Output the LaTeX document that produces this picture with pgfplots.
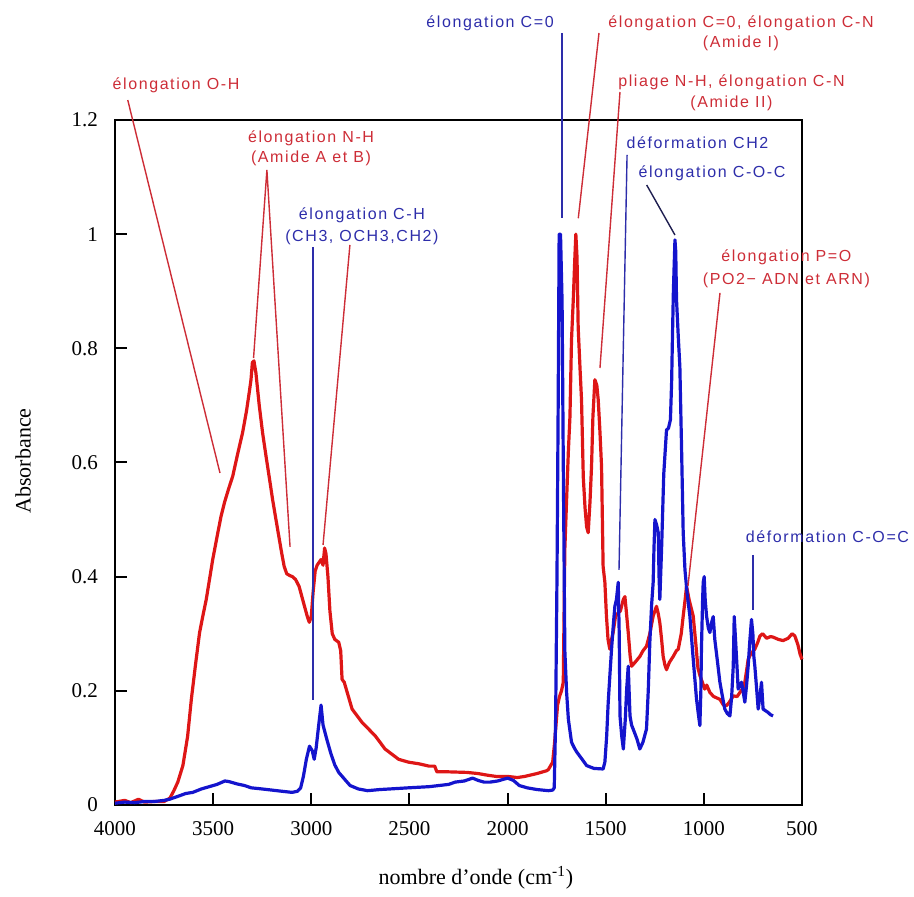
\documentclass[border=0pt]{standalone}
\usepackage{fontspec}
\setmainfont{Liberation Serif}
\newfontfamily\annfont[LetterSpace=10]{Liberation Sans}
\usepackage{pgfplots}
\pgfplotsset{compat=1.18}
\definecolor{redc}{RGB}{222,22,22}
\definecolor{bluec}{RGB}{20,20,205}
\definecolor{redt}{RGB}{205,45,55}
\definecolor{bluet}{RGB}{45,45,170}
\definecolor{navyt}{RGB}{30,30,80}
\begin{document}
\begin{tikzpicture}
\begin{axis}[
 scale only axis, width=343.5pt, height=342.5pt,
 x dir=reverse, xmin=500, xmax=4000, ymin=0, ymax=1.2,
 xtick={500,1000,1500,2000,2500,3000,3500,4000},
 xticklabels={500,1000,1500,2000,2500,3000,3500,4000},
 ytick={0,0.2,0.4,0.6,0.8,1,1.2},
 yticklabels={0,0.2,0.4,0.6,0.8,1,1.2},
 tick pos=left, tick align=inside, major tick length=6pt,
 axis line style={line width=1pt},
 tick style={line width=1pt, black},
 clip=false,
 ticklabel style={font=\fontsize{10.5}{12}\selectfont},
 xticklabel style={yshift=-5pt},
 yticklabel style={xshift=-5pt},
 /pgf/number format/assume math mode=true,
]
\addplot[redc, line width=1.6pt, line join=round] coordinates {
(4000,0.005)(3950,0.008)(3920,0.004)(3880,0.010)(3850,0.005)(3800,0.006)(3750,0.006)
(3720,0.012)(3700,0.025)(3680,0.040)(3654,0.069)(3630,0.12)(3611,0.185)(3590,0.245)
(3569,0.302)(3550,0.335)(3535,0.36)(3502,0.43)(3476,0.477)(3460,0.505)(3442,0.53)
(3420,0.555)(3400,0.576)(3375,0.615)(3350,0.652)(3330,0.69)(3315,0.725)(3307,0.745)
(3300,0.775)(3292,0.778)(3282,0.757)(3265,0.70)(3248,0.652)(3230,0.61)(3210,0.565)
(3197,0.535)(3170,0.48)(3150,0.44)(3138,0.418)(3125,0.405)(3110,0.402)(3096,0.40)
(3080,0.395)(3062,0.383)(3040,0.355)(3020,0.33)(3010,0.32)(3000,0.33)(2990,0.375)
(2980,0.41)(2970,0.42)(2960,0.425)(2950,0.43)(2940,0.42)(2932,0.45)(2925,0.44)
(2915,0.40)(2905,0.34)(2893,0.30)(2880,0.29)(2860,0.285)(2850,0.27)(2843,0.22)
(2832,0.215)(2792,0.168)(2742,0.145)(2674,0.121)(2624,0.098)(2555,0.08)(2505,0.075)
(2450,0.072)(2400,0.068)(2371,0.068)(2360,0.058)(2300,0.058)(2207,0.057)(2150,0.055)
(2100,0.052)(2059,0.05)(2000,0.05)(1950,0.048)(1912,0.05)(1850,0.055)(1800,0.06)
(1792,0.062)(1770,0.075)(1760,0.11)(1745,0.175)(1735,0.19)(1725,0.20)(1716,0.215)
(1708,0.448)(1699,0.535)(1690,0.62)(1682,0.68)(1674,0.815)(1665,0.885)(1658,0.95)
(1652,1.0)(1646,0.96)(1640,0.836)(1630,0.76)(1623,0.71)(1614,0.574)(1605,0.52)
(1597,0.487)(1589,0.477)(1580,0.53)(1572,0.593)(1565,0.68)(1555,0.745)(1545,0.735)
(1538,0.71)(1530,0.66)(1521,0.593)(1513,0.418)(1504,0.39)(1496,0.331)(1488,0.29)
(1479,0.273)(1470,0.29)(1462,0.302)(1450,0.33)(1440,0.335)(1425,0.34)(1410,0.36)
(1402,0.365)(1395,0.34)(1385,0.302)(1375,0.26)(1368,0.243)(1350,0.25)(1326,0.26)
(1310,0.27)(1292,0.278)(1275,0.30)(1258,0.331)(1241,0.348)(1232,0.335)(1224,0.319)
(1215,0.29)(1207,0.26)(1198,0.245)(1190,0.237)(1175,0.25)(1156,0.26)(1140,0.27)
(1130,0.273)(1115,0.30)(1105,0.331)(1095,0.36)(1088,0.383)(1075,0.36)(1054,0.331)
(1040,0.28)(1030,0.24)(1020,0.227)(995,0.203)(985,0.21)(969,0.197)(950,0.19)
(918,0.185)(900,0.175)(884,0.174)(870,0.18)(850,0.191)(830,0.19)(816,0.197)
(800,0.205)(791,0.215)(780,0.24)(774,0.255)(760,0.265)(740,0.273)(725,0.285)
(714,0.296)(700,0.30)(680,0.292)(660,0.295)(647,0.294)(620,0.29)(596,0.288)
(570,0.292)(550,0.30)(536,0.296)(520,0.28)(510,0.265)(500,0.255)
};
\addplot[bluec, line width=1.6pt, line join=round] coordinates {
(4000,0.003)(3950,0.005)(3900,0.004)(3850,0.006)(3800,0.006)(3750,0.008)(3722,0.01)
(3680,0.015)(3640,0.02)(3604,0.022)(3560,0.028)(3520,0.032)(3480,0.036)(3440,0.042)
(3420,0.041)(3380,0.037)(3340,0.034)(3306,0.03)(3250,0.028)(3200,0.026)(3150,0.024)
(3098,0.022)(3070,0.024)(3054,0.03)(3040,0.05)(3025,0.08)(3009,0.103)(2995,0.095)
(2985,0.08)(2975,0.10)(2962,0.14)(2950,0.175)(2940,0.14)(2920,0.114)(2900,0.09)
(2880,0.07)(2860,0.057)(2830,0.045)(2802,0.034)(2760,0.028)(2713,0.025)(2650,0.027)
(2600,0.028)(2505,0.03)(2400,0.032)(2300,0.036)(2267,0.04)(2220,0.042)(2178,0.047)
(2150,0.043)(2120,0.04)(2089,0.04)(2050,0.042)(2020,0.045)(1999,0.047)(1970,0.043)
(1940,0.034)(1900,0.03)(1850,0.027)(1792,0.025)(1770,0.026)(1762,0.03)(1755,0.15)
(1748,0.4)(1742,0.7)(1737,1.0)(1730,1.0)(1722,0.88)(1716,0.6)(1708,0.27)(1699,0.197)
(1690,0.15)(1674,0.11)(1660,0.10)(1648,0.093)(1620,0.08)(1597,0.069)(1560,0.064)
(1513,0.063)(1504,0.075)(1495,0.12)(1487,0.18)(1478,0.23)(1470,0.273)(1460,0.32)
(1453,0.348)(1445,0.36)(1436,0.39)(1431,0.30)(1427,0.156)(1418,0.12)(1410,0.098)
(1400,0.15)(1393,0.203)(1385,0.243)(1376,0.156)(1368,0.14)(1360,0.133)(1340,0.115)
(1326,0.098)(1310,0.11)(1292,0.133)(1283,0.2)(1275,0.285)(1266,0.35)(1258,0.39)
(1254,0.448)(1249,0.50)(1240,0.49)(1232,0.477)(1228,0.40)(1224,0.36)(1215,0.45)
(1204,0.58)(1190,0.657)(1180,0.66)(1170,0.675)(1164,0.74)(1160,0.815)(1155,0.90)
(1147,0.99)(1143,0.97)(1139,0.885)(1130,0.82)(1122,0.768)(1113,0.62)(1105,0.477)
(1096,0.412)(1085,0.37)(1071,0.331)(1055,0.26)(1037,0.185)(1028,0.16)(1020,0.139)
(1015,0.2)(1012,0.273)(1006,0.36)(1003,0.39)(998,0.40)(993,0.36)(986,0.331)
(977,0.31)(969,0.302)(960,0.32)(952,0.33)(944,0.29)(930,0.25)(918,0.215)(905,0.19)
(893,0.168)(880,0.16)(867,0.156)(858,0.19)(850,0.243)(845,0.33)(840,0.30)(832,0.25)
(825,0.203)(815,0.21)(808,0.215)(800,0.20)(791,0.18)(782,0.21)(774,0.243)(765,0.29)
(757,0.325)(750,0.30)(745,0.26)(740,0.243)(730,0.20)(723,0.168)(714,0.19)(706,0.215)
(698,0.168)(685,0.165)(672,0.162)(660,0.158)(647,0.156)
};
% bounding box matching the reference frame
\path (axis cs:4585.9,1.4102) rectangle (axis cs:-70.9,-0.1524);
% axis labels
\node[rotate=90, font=\fontsize{11}{13}\selectfont] at (axis cs:4468.7,0.6026) {Absorbance};
\node[font=\fontsize{11}{13}\selectfont] at (axis cs:2160.7,-0.1279) {nombre d'onde (cm\textsuperscript{-1})};
% annotations
\tikzset{ann/.style={font=\fontsize{8}{9.6}\annfont, inner sep=0pt}}
\node[ann, text=redt] at (axis cs:3689,1.2613) {élongation O-H};
\draw[redt, line width=0.7pt] (axis cs:3935,1.235) -- (axis cs:3465,0.5816);
\node[ann, text=redt] at (axis cs:3001,1.1685) {élongation N-H};
\node[ann, text=redt] at (axis cs:3001,1.1334) {(Amide A et B)};
\draw[redt, line width=0.7pt] (axis cs:3294,0.783) -- (axis cs:3226,1.1124) -- (axis cs:3108,0.452);
\node[ann, text=bluet] at (axis cs:2742,1.0336) {élongation C-H};
\node[ann, text=bluet] at (axis cs:2742,0.995) {(CH3, OCH3,CH2)};
\draw[bluet, line width=0.7pt] (axis cs:2991,0.9775) -- (axis cs:2991,0.184);
\draw[redt, line width=0.7pt] (axis cs:2803,0.981) -- (axis cs:2940,0.4555);
\node[ann, text=bluet] at (axis cs:2089,1.37) {élongation C=0};
\draw[bluet, line width=0.7pt] (axis cs:1722.6,1.3524) -- (axis cs:1722.6,1.028);
\node[ann, text=redt] at (axis cs:810.5,1.37) {élongation C=0, élongation C-N};
\node[ann, text=redt] at (axis cs:810.5,1.3349) {(Amide I)};
\draw[redt, line width=0.7pt] (axis cs:1534,1.3524) -- (axis cs:1639.5,1.0278);
\node[ann, text=redt] at (axis cs:859,1.2666) {pliage N-H, élongation C-N};
\node[ann, text=redt] at (axis cs:859,1.2298) {(Amide II)};
\draw[redt, line width=0.7pt] (axis cs:1427,1.249) -- (axis cs:1529,0.7655);
\node[ann, text=bluet] at (axis cs:1032,1.1597) {déformation CH2};
\draw[bluet, line width=0.7pt] (axis cs:1391,1.1387) -- (axis cs:1432,0.4117);
\node[ann, text=bluet] at (axis cs:958,1.1072) {élongation C-O-C};
\draw[navyt, line width=0.7pt] (axis cs:1291,1.0861) -- (axis cs:1147,0.9985);
\node[ann, text=redt] at (axis cs:579,0.96) {élongation P=O};
\node[ann, text=redt] at (axis cs:579,0.9197) {(PO2− ADN et ARN)};
\draw[redt, line width=0.7pt] (axis cs:917.5,0.897) -- (axis cs:1080.6,0.3837);
\node[ann, text=bluet] at (axis cs:370,0.4695) {déformation C-O=C};
\draw[bluet, line width=0.7pt] (axis cs:749.4,0.438) -- (axis cs:749.4,0.3416);
\end{axis}
\end{tikzpicture}
\end{document}
